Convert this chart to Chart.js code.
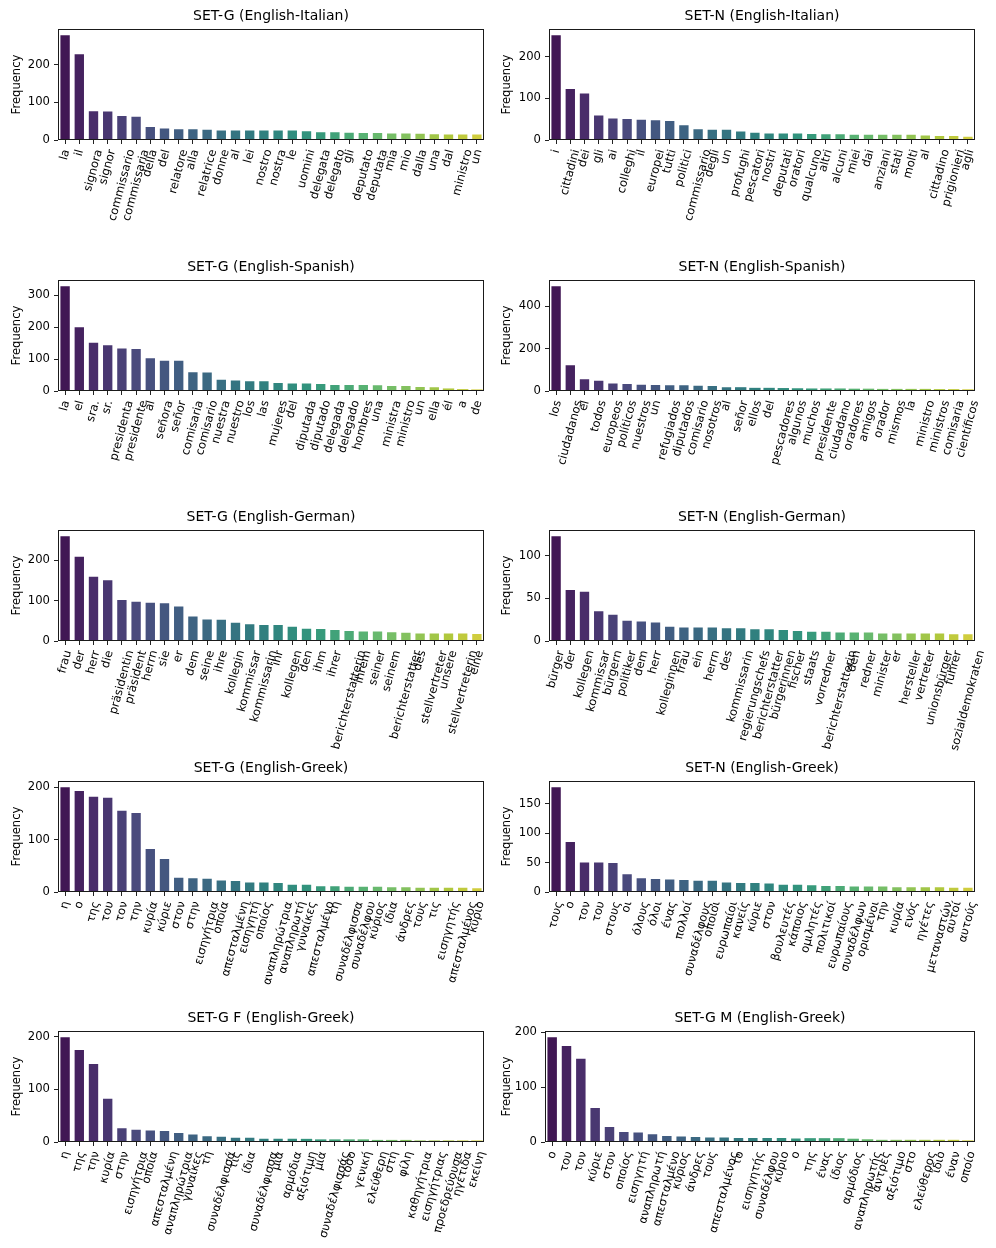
<!DOCTYPE html>
<html>
<head>
<meta charset="utf-8">
<script src="https://cdn.jsdelivr.net/npm/chart.js@4.4.1/dist/chart.umd.min.js"></script>
<style>
  html, body { margin: 0; padding: 0; background: #fff; }
  #fig { position: relative; width: 996px; height: 1248px; overflow: hidden; }
  #fig canvas { position: absolute; }
</style>
</head>
<body>
<div id="fig"></div>
<script>
// chart data
const titles = [
    "SET-G (English-Italian)", "SET-N (English-Italian)",
    "SET-G (English-Spanish)", "SET-N (English-Spanish)",
    "SET-G (English-German)", "SET-N (English-German)",
    "SET-G (English-Greek)", "SET-N (English-Greek)",
    "SET-G F (English-Greek)", "SET-G M (English-Greek)"
];
const yTickSteps = [100, 100, 100, 200, 100, 50, 100, 50, 100, 100];

const itG_words = ["la", "il", "signora", "signor", "commissario", "commissaria", "della", "del", "relatore", "alla",
    "relatrice", "donne", "al", "lei", "nostro", "nostra", "le", "uomini", "delegata", "delegato",
    "gli", "deputato", "deputata", "mia", "mio", "dalla", "una", "dal", "ministro", "un"];
const itG_counts = [280, 230, 79, 78, 66, 64, 37, 33, 31, 31, 30, 28, 28, 28, 28, 28, 28, 26, 23, 23, 22, 21, 21, 20, 20, 19, 18, 17, 17, 17];

const itN_words = ["i", "cittadini", "dei", "gli", "ai", "colleghi", "il", "europei", "tutti", "politici",
    "commissario", "degli", "un", "profughi", "pescatori", "nostri", "deputati", "oratori", "qualcuno", "altri",
    "alcuni", "miei", "dai", "anziani", "stati", "molti", "al", "cittadino", "prigionieri", "agli"];
const itN_counts = [254, 125, 114, 61, 54, 53, 51, 50, 48, 38, 28, 27, 27, 23, 20, 18, 18, 18, 17, 16, 16, 15, 15, 15, 15, 15, 13, 12, 12, 10];

const esG_words = ["la", "el", "sra.", "sr.", "presidenta", "presidente", "al", "señora", "señor", "comisaria",
    "comisario", "nuestra", "nuestro", "los", "las", "mujeres", "del", "diputada", "diputado", "delegada",
    "delegado", "hombres", "una", "ministra", "ministro", "un", "ella", "él", "a", "de"];
const esG_counts = [331, 203, 154, 146, 136, 135, 106, 98, 98, 62, 61, 38, 36, 34, 34, 28, 27, 27, 25, 22, 22, 22, 21, 19, 19, 16, 15, 8, 6, 5];

const esN_words = ["los", "ciudadanos", "el", "todos", "europeos", "políticos", "nuestros", "un", "refugiados", "diputados",
    "comisario", "nosotros", "al", "señor", "ellos", "del", "pescadores", "algunos", "muchos", "presidente",
    "ciudadano", "oradores", "amigos", "orador", "mismos", "la", "ministro", "ministros", "comisaria", "científicos"];
const esN_counts = [500, 127, 60, 53, 40, 38, 34, 33, 32, 32, 30, 28, 23, 18, 15, 15, 14, 13, 12, 12, 12, 11, 11, 10, 10, 10, 10, 9, 9, 8];

const deG_words = ["frau", "der", "herr", "die", "präsidentin", "präsident", "herrn", "sie", "er", "dem",
    "seine", "ihre", "kollegin", "kommissar", "kommissarin", "ihr", "kollegen", "den", "ihm", "ihrer",
    "berichterstatterin", "ihrem", "seiner", "seinem", "berichterstatter", "des", "stellvertreter", "unsere", "stellvertreterin", "eine"];
const deG_counts = [262, 211, 162, 153, 104, 100, 97, 96, 88, 63, 56, 55, 48, 44, 42, 42, 38, 33, 32, 30, 27, 26, 26, 24, 23, 21, 21, 21, 21, 20];

const deN_words = ["bürger", "der", "kollegen", "kommissar", "bürgern", "politiker", "dem", "herr", "kolleginnen", "frau",
    "ein", "herrn", "des", "kommissarin", "regierungschefs", "berichterstatter", "bürgerinnen", "fischer", "staats", "vorredner",
    "berichterstatterin", "den", "redner", "minister", "er", "hersteller", "vertreter", "unionsbürger", "führer", "sozialdemokraten"];
const deN_counts = [124, 61, 59, 36, 32, 25, 24, 23, 18, 17, 17, 17, 16, 16, 15, 15, 14, 13, 12, 12, 11, 11, 11, 10, 10, 10, 10, 10, 9, 9];

const elG_words = ["η", "ο", "της", "του", "τον", "την", "κυρία", "κύριε", "στον", "στην",
    "εισηγήτρια", "οποία", "απεσταλμένη", "εισηγητή", "οποίος", "αναπληρώτρια", "αναπληρωτή", "γυναίκες", "απεσταλμένο", "τη",
    "συναδέλφισσα", "συναδέλφου", "κύριος", "ίδια", "άνδρες", "τους", "τις", "εισηγητής", "απεσταλμένος", "κύριο"];
const elG_counts = [202, 195, 184, 182, 157, 153, 84, 65, 29, 28, 27, 24, 23, 20, 20, 19, 16, 16, 13, 13, 12, 12, 12, 11, 11, 10, 10, 10, 10, 9];

const elN_words = ["τους", "ο", "τον", "του", "στους", "οι", "όλους", "όλοι", "ένας", "πολλοί",
    "συναδέλφους", "οποίοι", "ευρωπαίοι", "κανείς", "κύριε", "στον", "βουλευτές", "κάποιος", "ομιλητές", "πολιτικοί",
    "ευρωπαίους", "συναδέλφων", "ορισμένοι", "την", "κυρία", "ενός", "ηγέτες", "μεταναστών", "αυτοί", "αυτούς"];
const elN_counts = [180, 87, 52, 52, 51, 32, 25, 24, 23, 22, 21, 21, 18, 17, 17, 16, 14, 14, 13, 12, 12, 11, 11, 11, 10, 10, 10, 10, 9, 9];

const elF_words = ["η", "της", "την", "κυρία", "στην", "εισηγήτρια", "οποία", "απεσταλμένη", "αναπληρώτρια", "γυναίκες",
    "τη", "συναδέλφισσά", "τις", "ίδια", "συναδέλφισσα", "μια", "αρμόδια", "αξιότιμη", "μία", "συναδέλφισσάς",
    "τόσο", "γενική", "ελεύθερη", "στη", "φίλη", "καθηγήτρια", "εισηγήτριας", "προεδρεύουσα", "ηγέτιδα", "εκείνη"];
const elF_counts = [201, 177, 150, 84, 28, 25, 24, 23, 19, 16, 13, 12, 10, 10, 8, 8, 8, 6, 5, 5, 5, 5, 4, 4, 4, 3, 3, 3, 3, 3];

const elM_words = ["ο", "του", "τον", "κύριε", "στον", "οποίος", "εισηγητή", "αναπληρωτή", "απεσταλμένο", "κύριος",
    "άνδρες", "τους", "απεσταλμένος", "το", "εισηγητής", "συναδέλφου", "κύριο", "ο", "της", "ένας",
    "ίδιος", "αρμόδιος", "αναπληρωτής", "άντρες", "αξιότιμο", "στο", "ελεύθερος", "ίδιο", "έναν", "οποίο"];
const elM_counts = [193, 177, 154, 64, 29, 20, 19, 16, 13, 12, 11, 10, 10, 9, 9, 9, 9, 8, 7, 7, 7, 6, 5, 4, 4, 4, 4, 4, 4, 3];

const panelWords = [itG_words, itN_words, esG_words, esN_words, deG_words, deN_words, elG_words, elN_words, elF_words, elM_words];
const panelCounts = [itG_counts, itN_counts, esG_counts, esN_counts, deG_counts, deN_counts, elG_counts, elN_counts, elF_counts, elM_counts];

const rowAxesTop = [29, 280, 530, 781, 1031];
const AX_H = 111;
const FONT = "'DejaVu Sans', sans-serif";
const TICK_FONT = 11.6;
const ROT = 75 * Math.PI / 180;

// viridis, sampled like seaborn and desaturated to 0.75
const VIRIDIS = ["#440154", "#482475", "#414487", "#355f8d", "#2a788e", "#21918c",
    "#22a884", "#44bf70", "#7ad151", "#bddf26", "#fde725"];

function hexRgb(h) {
    return [1, 3, 5].map((k) => parseInt(h.substr(k, 2), 16) / 255);
}

function viridis(t) {
    const p = t * (VIRIDIS.length - 1);
    const k = Math.min(Math.floor(p), VIRIDIS.length - 2);
    const f = p - k;
    const a = hexRgb(VIRIDIS[k]), b = hexRgb(VIRIDIS[k + 1]);
    return a.map((v, j) => v + (b[j] - v) * f);
}

function desaturate([r, g, b], prop) {
    const maxc = Math.max(r, g, b), minc = Math.min(r, g, b);
    const l = (maxc + minc) / 2;
    if (maxc === minc) return [r, g, b];
    let s = l <= 0.5 ? (maxc - minc) / (maxc + minc) : (maxc - minc) / (2 - maxc - minc);
    const rc = (maxc - r) / (maxc - minc), gc = (maxc - g) / (maxc - minc), bc = (maxc - b) / (maxc - minc);
    let h = r === maxc ? bc - gc : (g === maxc ? 2 + rc - bc : 4 + gc - rc);
    h = ((h / 6) % 1 + 1) % 1;
    s *= prop;
    const m2 = l <= 0.5 ? l * (1 + s) : l + s - l * s;
    const m1 = 2 * l - m2;
    const v = (hue) => {
        hue = ((hue % 1) + 1) % 1;
        if (hue < 1 / 6) return m1 + (m2 - m1) * hue * 6;
        if (hue < 0.5) return m2;
        if (hue < 2 / 3) return m1 + (m2 - m1) * (2 / 3 - hue) * 6;
        return m1;
    };
    return [v(h + 1 / 3), v(h), v(h - 1 / 3)];
}

function palette(n) {
    const out = [];
    for (let i = 1; i <= n; i++) {
        const c = desaturate(viridis(i / (n + 1)), 0.75);
        out.push(`rgb(${c.map((x) => Math.round(x * 255)).join(",")})`);
    }
    return out;
}

const framePlugin = {
    id: "frame",
    afterDraw(chart) {
        const { ctx, chartArea: a } = chart;
        ctx.save();
        ctx.strokeStyle = "#1a1a1a";
        ctx.lineWidth = 1;
        ctx.strokeRect(Math.round(a.left) + 0.5, Math.round(a.top) + 0.5,
            Math.round(a.right - a.left) - 1, Math.round(a.bottom - a.top) - 1);
        ctx.restore();
    }
};

// rotated category labels, centred on the tick like matplotlib's ha="center"
const xLabelPlugin = {
    id: "xLabels",
    afterDraw(chart) {
        const { ctx, chartArea: a } = chart;
        const xs = chart.scales.x;
        const labels = chart.data.labels;
        const h = TICK_FONT * 1.16;
        ctx.save();
        ctx.font = `${TICK_FONT}px ${FONT}`;
        ctx.fillStyle = "#000";
        ctx.textAlign = "center";
        ctx.textBaseline = "middle";
        labels.forEach((txt, i) => {
            const w = ctx.measureText(txt).width;
            const bbH = w * Math.sin(ROT) + h * Math.cos(ROT);
            const cx = xs.getPixelForValue(i);
            const cy = a.bottom + 8 + bbH / 2;
            ctx.save();
            ctx.translate(cx, cy);
            ctx.rotate(-ROT);
            ctx.fillText(txt, 0, 0);
            ctx.restore();
        });
        ctx.restore();
    }
};

const fig = document.getElementById("fig");

function makePanel(i) {
    const words = panelWords[i];
    const counts = panelCounts[i];
    const col = i % 2, row = Math.floor(i / 2);

    const canvasLeft = col === 0 ? 0 : 495;
    const canvasW = col === 0 ? 495 : 501;
    const axLeft = col === 0 ? 58 : (row === 4 ? 50 : 54);
    const padRight = col === 0 ? 11 : 21;
    const top = rowAxesTop[row] - 29;
    const canvasH = Math.min(250, 1248 - top);

    const canvas = document.createElement("canvas");
    canvas.width = canvasW;
    canvas.height = canvasH;
    canvas.style.left = canvasLeft + "px";
    canvas.style.top = top + "px";
    canvas.style.width = canvasW + "px";
    canvas.style.height = canvasH + "px";
    fig.appendChild(canvas);

    const step = yTickSteps[i];
    const yMax = Math.max(...counts) * 1.05;

    new Chart(canvas.getContext("2d"), {
        type: "bar",
        plugins: [framePlugin, xLabelPlugin],
        data: {
            labels: words,
            datasets: [{
                data: counts,
                backgroundColor: palette(counts.length),
                borderColor: "rgba(255,255,255,0.35)",
                // thin light edge, dropped on the very short bars so they keep their colour
                borderWidth: (c) => (c.raw / yMax * AX_H < 4 ? 0 : 1),
                categoryPercentage: 1.0,
                barPercentage: 0.8
            }]
        },
        options: {
            responsive: false,
            animation: false,
            devicePixelRatio: 1,
            layout: { padding: { left: 0, right: padRight, top: 0, bottom: 0 } },
            plugins: {
                legend: { display: false },
                tooltip: { enabled: false },
                title: {
                    display: true,
                    text: titles[i],
                    fullSize: false,
                    color: "#000",
                    font: { family: FONT, size: 14, weight: "normal" },
                    padding: { top: 7.6, bottom: 4.6 }
                }
            },
            scales: {
                x: {
                    offset: true,
                    afterFit: (s) => { s.height = canvasH - 29 - AX_H; },
                    border: { display: false },
                    grid: {
                        display: true, offset: false, drawOnChartArea: false,
                        drawTicks: true, tickLength: 4, color: "#222", lineWidth: 1
                    },
                    ticks: { display: false, autoSkip: false }
                },
                y: {
                    min: 0,
                    max: yMax,
                    afterFit: (s) => { s.width = axLeft; },
                    afterBuildTicks: (s) => {
                        const t = [];
                        for (let v = 0; v <= yMax; v += step) t.push({ value: v });
                        s.ticks = t;
                    },
                    border: { display: false },
                    grid: {
                        display: true, drawOnChartArea: false,
                        drawTicks: true, tickLength: 4, color: "#222", lineWidth: 1
                    },
                    ticks: {
                        stepSize: step, padding: 4, color: "#000",
                        font: { family: FONT, size: TICK_FONT }
                    },
                    title: {
                        display: true, text: "Frequency", color: "#000",
                        font: { family: FONT, size: TICK_FONT },
                        padding: { top: col === 0 ? 10 : 5, bottom: 0 }
                    }
                }
            }
        }
    });
}

for (let i = 0; i < titles.length; i++) makePanel(i);
</script>
</body>
</html>
